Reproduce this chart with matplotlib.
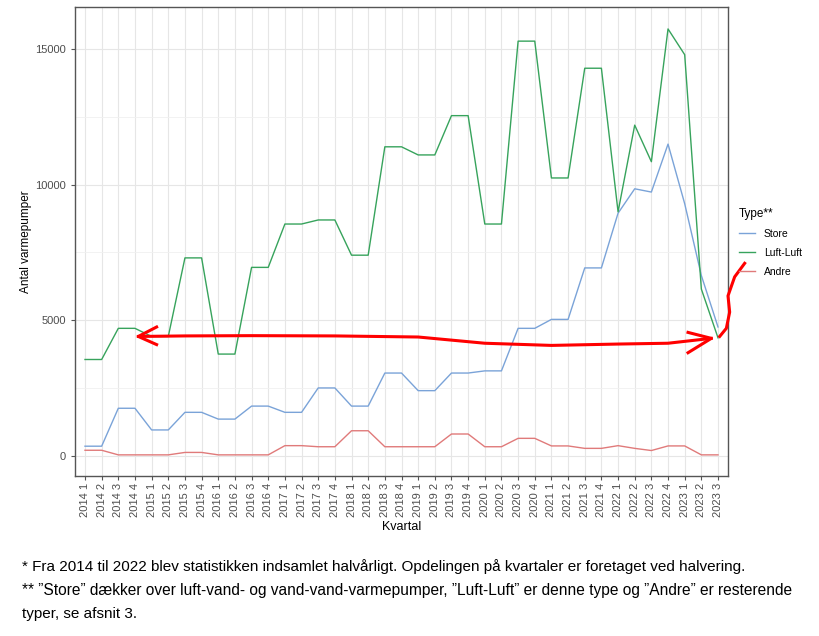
import matplotlib
matplotlib.use("Agg")
import matplotlib.pyplot as plt
import numpy as np

plt.rcParams["font.family"] = ["Liberation Sans", "DejaVu Sans"]

quarters = [f"{y} {q}" for y in range(2014, 2024) for q in range(1, 5)][:39]

store = [350, 350, 1750, 1750, 950, 950, 1600, 1600, 1350, 1350,
         1830, 1830, 1600, 1600, 2500, 2500, 1830, 1830, 3050, 3050,
         2400, 2400, 3050, 3050, 3130, 3130, 4700, 4700, 5030, 5030,
         6930, 6930, 8950, 9850, 9730, 11500, 9300, 6650, 4750]
luft_luft = [3550, 3550, 4700, 4700, 4400, 4400, 7300, 7300, 3750, 3750,
             6950, 6950, 8550, 8550, 8700, 8700, 7400, 7400, 11400, 11400,
             11100, 11100, 12550, 12550, 8550, 8550, 15300, 15300, 10250, 10250,
             14300, 14300, 9000, 12200, 10850, 15750, 14800, 6150, 4350]
andre = [200, 200, 30, 30, 30, 30, 120, 120, 30, 30,
         30, 30, 370, 370, 330, 330, 920, 920, 330, 330,
         330, 330, 800, 800, 330, 330, 640, 640, 360, 360,
         270, 270, 370, 270, 190, 360, 360, 30, 30]

series_names = ["Store", "Luft-Luft", "Andre"]
colors = ["#7aa3d8", "#37a35c", "#e07a7a"]

# hand-drawn annotation arrow (in data units: index, value)
arrow_x = [3.2, 6, 10, 15, 20, 24, 28, 32, 35, 37.6]
arrow_y = [4400, 4420, 4430, 4420, 4380, 4150, 4070, 4120, 4150, 4330]

fig = plt.figure(figsize=(8.19, 6.36), dpi=100)
ax = fig.add_axes([75/819, 1 - 476/636, (728-75)/819, (476-7)/636])

x = np.arange(len(quarters))
for vals, name, c in zip([store, luft_luft, andre], series_names, colors):
    ax.plot(x, vals, color=c, lw=1.0, label=name)

ax.set_xlim(-0.6, len(quarters) - 0.4)
ax.set_ylim(-750, 16560)
ax.set_yticks([0, 5000, 10000, 15000])
ax.set_yticks([2500, 7500, 12500], minor=True)
ax.set_xticks(x)
ax.set_xticklabels(quarters, rotation=90, fontsize=8, color="#4d4d4d")
ax.tick_params(axis="y", labelsize=8, labelcolor="#4d4d4d", color="#555555", length=3)
ax.tick_params(axis="y", which="minor", length=0)
ax.tick_params(axis="x", color="#555555", length=3, pad=2)
ax.grid(True, which="major", color="#e6e6e6", lw=0.8)
ax.grid(True, which="minor", axis="y", color="#f0f0f0", lw=0.6)
ax.set_axisbelow(True)
for s in ax.spines.values():
    s.set_color("#555555")
    s.set_linewidth(1.0)

ax.set_xlabel("Kvartal", fontsize=9, labelpad=3)
ax.set_ylabel("Antal varmepumper", fontsize=8.5, labelpad=2)

# annotation
ax.plot(arrow_x, arrow_y, color="red", lw=2.2, clip_on=False, zorder=5)
ax.plot([4.3, 3.2, 4.3], [4750, 4400, 4100], color="red", lw=2.2, zorder=5)
ax.plot([36.2, 37.6, 36.2], [4550, 4330, 3800], color="red", lw=2.2, zorder=5)
ax.plot([38.1, 38.5, 38.7, 38.6, 39.0, 39.6], [4400, 4700, 5300, 5900, 6600, 7100],
        color="red", lw=2.2, clip_on=False, zorder=5)

leg = ax.legend(loc="upper left", bbox_to_anchor=(1.01, 0.58), frameon=False,
                fontsize=7.5, title="Type**", title_fontsize=8.5,
                handlelength=1.6, labelspacing=0.85, borderaxespad=0)
leg._legend_box.align = "left"

foot_font = ["Liberation Sans", "DejaVu Sans"]
fig.text(22/819, 1 - 567/636, "* Fra 2014 til 2022 blev statistikken indsamlet halvårligt. Opdelingen på kvartaler er foretaget ved halvering.",
         fontsize=11, family=foot_font, va="center")
fig.text(22/819, 1 - 591/636, "** \u201dStore\u201d dækker over luft-vand- og vand-vand-varmepumper, \u201dLuft-Luft\u201d er denne type og \u201dAndre\u201d er resterende",
         fontsize=11.2, family=foot_font, va="center")
fig.text(22/819, 1 - 614/636, "typer, se afsnit 3.", fontsize=11, family=foot_font, va="center")

fig.savefig("out.png", dpi=100)
